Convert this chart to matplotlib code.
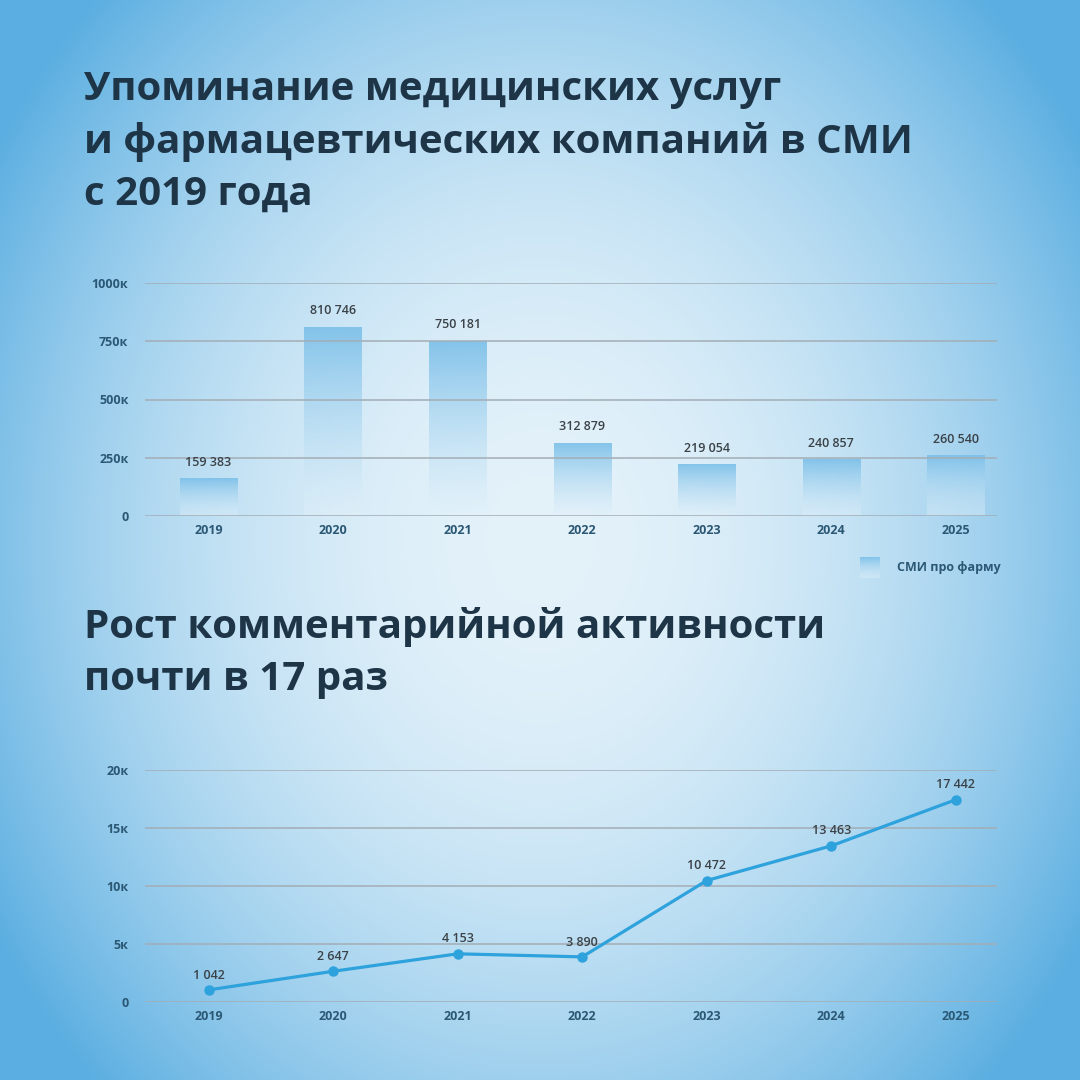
import numpy as np
import matplotlib.pyplot as plt
from matplotlib.colors import to_rgb

plt.rcParams['font.family'] = ['Open Sans', 'DejaVu Sans']

# === DATA ===
years = ["2019", "2020", "2021", "2022", "2023", "2024", "2025"]
media_mentions = [159383, 810746, 750181, 312879, 219054, 240857, 260540]
comments = [1042, 2647, 4153, 3890, 10472, 13463, 17442]

bar_ticks = [0, 250000, 500000, 750000, 1000000]
bar_tick_labels = ["0", "250к", "500к", "750к", "1000к"]
line_ticks = [0, 5000, 10000, 15000, 20000]
line_tick_labels = ["0", "5к", "10к", "15к", "20к"]

title1 = "Упоминание медицинских услуг\nи фармацевтических компаний в СМИ\nс 2019 года"
title2 = "Рост комментарийной активности\nпочти в 17 раз"
legend_label = "СМИ про фарму"

# === STYLE ===
title_color = "#1e3547"
tick_color = "#2b5874"
value_color = "#3a4147"
grid_color = "#a3adb5"
line_color = "#2ea2dc"
bar_top = "#7cc0e9"
bar_bottom = "#e2f1fa"


def fmt(v):
    return f"{v:,}".replace(",", " ")


def gradient_rgba(n=64):
    t = np.linspace(0, 1, n)[:, None]
    c1 = np.array(to_rgb(bar_top))
    c2 = np.array(to_rgb(bar_bottom))
    rgb = c1 * (1 - t) + c2 * t
    alpha = 0.9 - 0.5 * t
    return np.hstack([rgb, alpha]).reshape(n, 1, 4)


fig = plt.figure(figsize=(10.8, 10.8), dpi=100)

# background radial gradient
bg = fig.add_axes([0, 0, 1, 1])
yy, xx = np.mgrid[0:1080, 0:1080]
d = np.sqrt(((xx - 540) / 640.0) ** 2 + ((yy - 540) / 760.0) ** 2)
d = np.clip(d, 0, 1) ** 2.0
light = np.array(to_rgb("#e4f2fa"))
dark = np.array(to_rgb("#5aaee1"))
img = light * (1 - d[..., None]) + dark * d[..., None]
bg.imshow(img, extent=[0, 1, 0, 1], aspect="auto", origin="upper")
bg.axis("off")

# titles
fig.text(84 / 1080, 1 - 70 / 1080, title1, ha="left", va="top", fontsize=29,
         fontweight="bold", color=title_color, linespacing=1.42)
fig.text(84 / 1080, 1 - 607 / 1080, title2, ha="left", va="top", fontsize=29,
         fontweight="bold", color=title_color, linespacing=1.42)

x = np.arange(len(years))
grad = gradient_rgba()


def style_axis(ax, ticks, tick_labels, ymax):
    ax.set_facecolor("none")
    for s in ax.spines.values():
        s.set_visible(False)
    ax.set_xlim(-0.51, 6.33)
    ax.set_ylim(0, ymax)
    ax.set_yticks(ticks)
    ax.set_yticklabels(tick_labels)
    ax.set_xticks(x)
    ax.set_xticklabels(years)
    ax.tick_params(length=0, colors=tick_color, labelsize=9, pad=6)
    ax.tick_params(axis="y", pad=12)
    for lab in ax.get_xticklabels() + ax.get_yticklabels():
        lab.set_fontweight("bold")
    ax.grid(axis="y", color=grid_color, linewidth=1.1)


# bar chart
ax1 = fig.add_axes([145 / 1080, 1 - 516 / 1080, 852 / 1080, 233 / 1080])
style_axis(ax1, bar_ticks, bar_tick_labels, 1000000)
ax1.set_axisbelow(False)
bw = 0.46
bars = ax1.bar(x, media_mentions, width=bw, color="none", zorder=1)
for b, v in zip(bars, media_mentions):
    x0 = b.get_x()
    ax1.imshow(grad, extent=[x0, x0 + bw, 0, v], aspect="auto", origin="upper", zorder=1)
    ax1.annotate(fmt(v), (b.get_x() + bw / 2, v), xytext=(0, 7), textcoords="offset points",
                 ha="center", va="bottom", fontsize=9, fontweight="semibold", color=value_color)
ax1.set_xlim(-0.51, 6.33)
ax1.set_ylim(0, 1000000)

# legend swatch
lg = fig.add_axes([860 / 1080, 1 - 578 / 1080, 20 / 1080, 21 / 1080])
lg.imshow(grad, aspect="auto", origin="upper")
lg.axis("off")
fig.text(897 / 1080, 1 - 568 / 1080, legend_label, ha="left", va="center", fontsize=9,
         fontweight="bold", color=tick_color)

# line chart
ax2 = fig.add_axes([145 / 1080, 1 - 1002 / 1080, 852 / 1080, 232 / 1080])
style_axis(ax2, line_ticks, line_tick_labels, 20000)
ax2.set_axisbelow(True)
ax2.plot(x, comments, color=line_color, linewidth=2.3, marker="o", markersize=6.5, zorder=3)
for xi, v in zip(x, comments):
    ax2.annotate(fmt(v), (xi, v), xytext=(0, 6), textcoords="offset points",
                 ha="center", va="bottom", fontsize=9, fontweight="semibold", color=value_color)

fig.savefig("out.png", dpi=100)
